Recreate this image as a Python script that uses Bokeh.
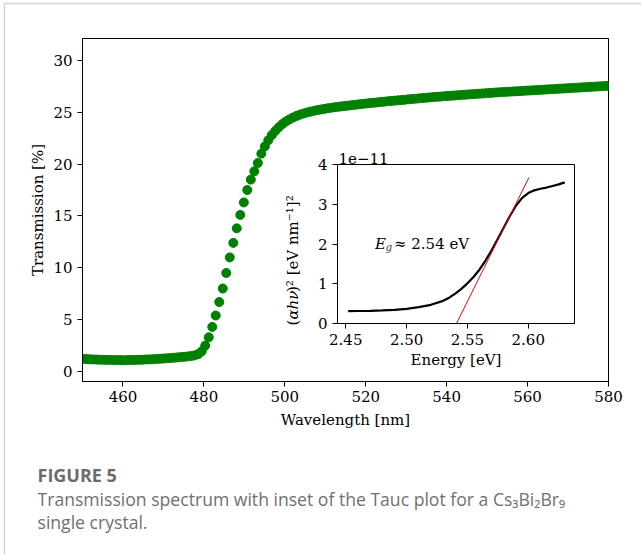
import math
from bokeh.plotting import figure
from bokeh.models import Range1d, Label, FixedTicker
from bokeh.core.properties import value
from bokeh.embed import file_html
from bokeh.resources import INLINE

# ---- transmission spectrum ----
wavelength = [
    450.00, 450.87, 451.73, 452.60, 453.47, 454.33, 455.20, 456.07, 456.93, 457.80, 458.67, 459.53, 460.40, 461.27, 462.13, 463.00,
    463.87, 464.73, 465.60, 466.47, 467.33, 468.20, 469.07, 469.93, 470.80, 471.67, 472.53, 473.40, 474.27, 475.13, 476.00,
    476.87, 477.73, 478.60, 479.47, 480.33, 481.20, 482.07, 482.93, 483.80, 484.67, 485.53, 486.40, 487.27, 488.13, 489.00,
    489.87, 490.73, 491.60, 492.47, 493.33, 494.20, 495.07, 495.93, 496.80, 497.67, 498.53, 499.40, 500.27, 501.13, 502.00,
    502.87, 503.73, 504.60, 505.47, 506.33, 507.20, 508.07, 508.93, 509.80, 510.67, 511.53, 512.40, 513.27, 514.13, 515.00,
    515.87, 516.73, 517.60, 518.47, 519.33, 520.20, 521.07, 521.93, 522.80, 523.67, 524.53, 525.40, 526.27, 527.13, 528.00,
    528.87, 529.73, 530.60, 531.47, 532.33, 533.20, 534.07, 534.93, 535.80, 536.67, 537.53, 538.40, 539.27, 540.13, 541.00,
    541.87, 542.73, 543.60, 544.47, 545.33, 546.20, 547.07, 547.93, 548.80, 549.67, 550.53, 551.40, 552.27, 553.13, 554.00,
    554.87, 555.73, 556.60, 557.47, 558.33, 559.20, 560.07, 560.93, 561.80, 562.67, 563.53, 564.40, 565.27, 566.13, 567.00,
    567.87, 568.73, 569.60, 570.47, 571.33, 572.20, 573.07, 573.93, 574.80, 575.67, 576.53, 577.40, 578.27, 579.13, 580.00,
]
transmission = [
    1.22, 1.20, 1.18, 1.17, 1.15, 1.14, 1.13, 1.12, 1.12, 1.11, 1.11, 1.10, 1.10, 1.11, 1.11, 1.12,
    1.13, 1.14, 1.16, 1.17, 1.19, 1.21, 1.23, 1.25, 1.28, 1.30, 1.33, 1.36, 1.39, 1.42, 1.46,
    1.50, 1.56, 1.68, 1.95, 2.50, 3.30, 4.30, 5.40, 6.70, 8.00, 9.50, 11.00, 12.40, 13.80, 15.10,
    16.30, 17.50, 18.50, 19.30, 20.10, 21.00, 21.70, 22.30, 22.80, 23.20, 23.55, 23.85, 24.10, 24.30, 24.48,
    24.63, 24.76, 24.87, 24.97, 25.05, 25.13, 25.20, 25.26, 25.32, 25.38, 25.43, 25.48, 25.52, 25.56, 25.60,
    25.64, 25.68, 25.72, 25.76, 25.80, 25.84, 25.88, 25.91, 25.94, 25.98, 26.01, 26.05, 26.08, 26.11, 26.14,
    26.17, 26.20, 26.24, 26.27, 26.30, 26.33, 26.36, 26.39, 26.42, 26.45, 26.48, 26.50, 26.53, 26.56, 26.58,
    26.61, 26.63, 26.66, 26.68, 26.71, 26.73, 26.76, 26.78, 26.80, 26.83, 26.85, 26.87, 26.90, 26.92, 26.94,
    26.96, 26.98, 27.00, 27.02, 27.04, 27.06, 27.08, 27.10, 27.12, 27.14, 27.16, 27.18, 27.20, 27.22, 27.24,
    27.26, 27.28, 27.30, 27.32, 27.34, 27.36, 27.38, 27.40, 27.42, 27.44, 27.46, 27.48, 27.50, 27.52, 27.54,
]
x_ticks = [460, 480, 500, 520, 540, 560, 580]
y_ticks = [0, 5, 10, 15, 20, 25, 30]

# ---- Tauc plot (values in units of 1e-11) ----
energy = [2.452, 2.46, 2.47, 2.48, 2.49, 2.50, 2.51, 2.52, 2.53, 2.535, 2.54, 2.545, 2.55, 2.555,
          2.56, 2.565, 2.57, 2.575, 2.58, 2.585, 2.59, 2.595, 2.60, 2.605, 2.61, 2.615, 2.62, 2.625, 2.63]
tauc = [0.31, 0.315, 0.32, 0.33, 0.345, 0.37, 0.41, 0.47, 0.57, 0.65, 0.75, 0.87, 1.01, 1.17,
        1.36, 1.59, 1.85, 2.13, 2.42, 2.71, 2.97, 3.16, 3.28, 3.35, 3.39, 3.42, 3.46, 3.50, 3.55]
fit_energy = [2.541, 2.6005]
fit_tauc = [0.0, 3.67]
band_gap = 2.54
inset_x_ticks = [2.45, 2.50, 2.55, 2.60]
inset_y_ticks = [0, 1, 2, 3, 4]

SERIF = "DejaVu Serif"
CAPTION_FONT = "Open Sans"
W, H = 641, 554


def style_axes(fig, size):
    for ax in (fig.xaxis, fig.yaxis):
        ax.axis_line_color = "black"
        ax.axis_line_width = 1
        ax.major_tick_line_color = "black"
        ax.major_tick_out = 5
        ax.major_tick_in = 0
        ax.minor_tick_line_color = None
        ax.major_label_text_font = SERIF
        ax.major_label_text_font_size = size
        ax.major_label_text_color = "black"
        ax.axis_label_text_font = SERIF
        ax.axis_label_text_font_size = size
        ax.axis_label_text_font_style = "normal"
        ax.axis_label_text_color = "black"
    fig.grid.visible = False
    fig.outline_line_color = "black"
    fig.outline_line_width = 1
    fig.outline_line_alpha = 1


# ---- main transmission plot ----
main = figure(width=W, height=H, x_range=Range1d(450, 580), y_range=Range1d(-0.96, 32.1),
              output_backend="svg", toolbar_location=None,
              min_border_left=82, min_border_right=33, min_border_top=38, min_border_bottom=173,
              styles={"position": "absolute", "left": "0px", "top": "0px"})
main.border_fill_color = None
main.background_fill_color = "white"
style_axes(main, "15px")
main.xaxis.ticker = FixedTicker(ticks=x_ticks)
main.yaxis.ticker = FixedTicker(ticks=y_ticks)
main.xaxis.axis_label = "Wavelength [nm]"
main.yaxis.axis_label = "Transmission [%]"
main.xaxis.major_label_standoff = 4
main.yaxis.major_label_standoff = 5
main.xaxis.axis_label_standoff = 6
main.yaxis.axis_label_standoff = 3
main.scatter(wavelength, transmission, size=9, color="#008000")

# ---- inset: Tauc plot ----
inset = figure(width=302, height=239, x_range=Range1d(2.4432, 2.638), y_range=Range1d(0, 4),
               output_backend="svg", toolbar_location=None,
               min_border_left=55, min_border_right=10, min_border_top=30, min_border_bottom=50,
               styles={"position": "absolute", "left": "282px", "top": "134px"})
inset.border_fill_color = None
inset.background_fill_color = "white"
style_axes(inset, "15px")
inset.xaxis.ticker = FixedTicker(ticks=inset_x_ticks)
inset.xaxis.major_label_overrides = {t: f"{t:.2f}" for t in inset_x_ticks}
inset.yaxis.ticker = FixedTicker(ticks=inset_y_ticks)
inset.xaxis.axis_label = "Energy [eV]"
inset.xaxis.major_label_standoff = 5
inset.xaxis.axis_label_standoff = 3
inset.yaxis.major_label_standoff = 5

inset.line(energy, tauc, line_color="black", line_width=2.2)
inset.line(fit_energy, fit_tauc, line_color="red", line_width=1)

# E_g annotation
label_kw = dict(text_font=SERIF, text_font_size="15px", text_color="black",
                text_baseline="alphabetic")
inset.add_layout(Label(x=2.474, y=2.0, text="E", text_font_style="italic", **label_kw))
inset.add_layout(Label(x=2.474, y=2.0, x_offset=10.5, y_offset=-3, text="g",
                       text_font=SERIF, text_font_size="10.5px", text_font_style="italic",
                       text_baseline="alphabetic"))
inset.add_layout(Label(x=2.474, y=2.0, x_offset=19, text=f"\u2248 {band_gap:.2f} eV", **label_kw))

# ---- overlay in page pixels: frame lines, inset offset text and y label, caption ----
page = figure(width=W, height=H, x_range=Range1d(0, W), y_range=Range1d(0, H),
              x_axis_type=None, y_axis_type=None, output_backend="svg",
              toolbar_location=None, min_border=0, outline_line_color=None,
              styles={"position": "absolute", "left": "0px", "top": "0px"})
page.background_fill_color = None
page.border_fill_color = None
page.segment(x0=[4, 4], y0=[H - 3, H - 3], x1=[W, 4], y1=[H - 3, 0],
             line_color="#d4d4d4", line_width=1.5)

serif_kw = dict(text_font=value(SERIF), text_font_size="15px", text_color="black",
                text_baseline="alphabetic", text_align="left")
# exponent of the inset's y axis
page.text(x=[338], y=[H - 157.5], text=["1e\u221211"], **serif_kw)
# inset y-axis label, rotated, built from upright and italic pieces
ylab_x, ylab_y = 292, H - 325
page.text(x=[ylab_x], y=[ylab_y], text=["("], angle=math.pi / 2, **serif_kw)
page.text(x=[ylab_x], y=[ylab_y + 5.9], text=["\u03b1h\u03bd"], angle=math.pi / 2,
          text_font_style="italic", **serif_kw)
page.text(x=[ylab_x], y=[ylab_y + 33.5], text=[")\u00b2 [eV nm\u207b\u00b9]\u00b2"],
          angle=math.pi / 2, **serif_kw)

# caption
page.text(x=[37], y=[H - 474], text=["FIGURE 5"], text_font=value(CAPTION_FONT),
          text_font_style="bold", text_font_size="18px", text_color="#6b6b6b",
          text_baseline="alphabetic")
page.text(x=[37, 37], y=[H - 498, H - 521],
          text=["Transmission spectrum with inset of the Tauc plot for a Cs\u2083Bi\u2082Br\u2089",
                "single crystal."],
          text_font=value(CAPTION_FONT), text_font_size="17.6px", text_color="#707070",
          text_baseline="alphabetic")

with open("out.html", "w") as f:
    f.write(file_html([main, inset, page], INLINE))
